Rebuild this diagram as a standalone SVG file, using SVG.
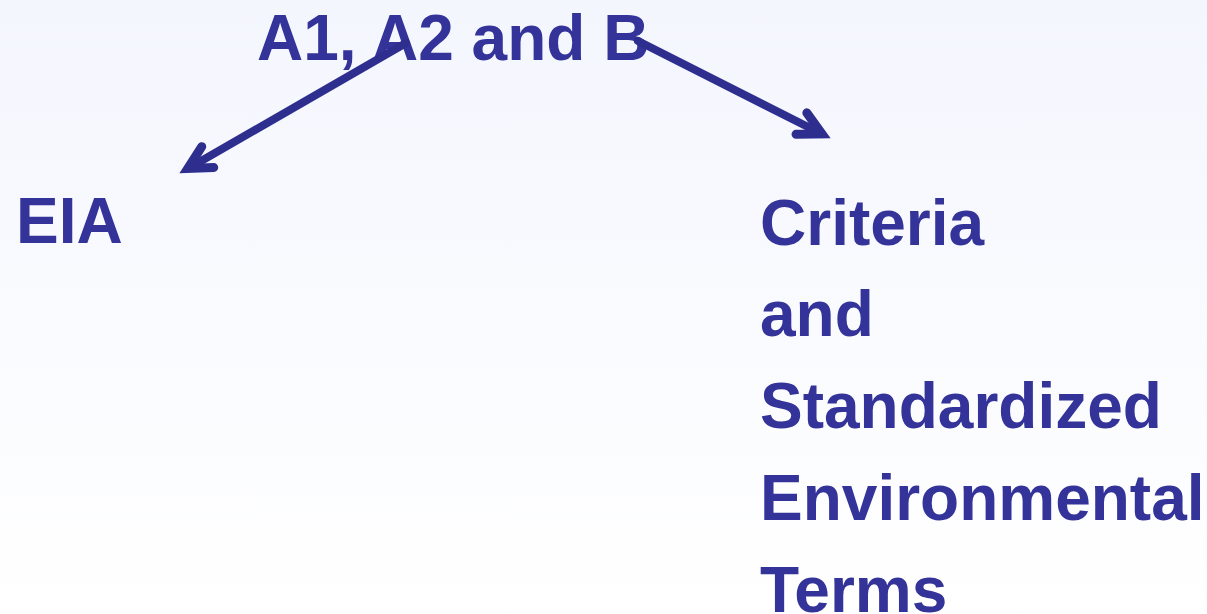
<svg xmlns="http://www.w3.org/2000/svg" width="1207" height="614" viewBox="0 0 1207 614">
  <defs>
    <linearGradient id="bg" x1="0" y1="0" x2="0" y2="1">
      <stop offset="0" stop-color="#f4f6fe"/>
      <stop offset="1" stop-color="#ffffff"/>
    </linearGradient>
    <marker id="arrow" markerUnits="userSpaceOnUse" viewBox="-45 -25 55 50" markerWidth="55" markerHeight="50" refX="0" refY="0" orient="auto" overflow="visible">
      <path d="M-32,-12 L-9,0 L-32,12" fill="none" stroke="#2e2e8f" stroke-width="9" stroke-linejoin="miter" stroke-linecap="round"/>
    </marker>
    <style>
      .label { font-family: "Liberation Sans", Arial, sans-serif; font-weight: bold; font-size: 64px; fill: #333399; }
      .link { fill: none; stroke: #2e2e8f; stroke-width: 8; stroke-linecap: round; }
    </style>
  </defs>

  <rect width="1207" height="614" fill="url(#bg)"/>

  <g id="node-source">
    <text class="label" x="257" y="60">A1, A2 and B</text>
  </g>

  <g id="node-eia">
    <text class="label" x="16" y="243">EIA</text>
  </g>

  <g id="node-criteria">
    <text class="label" x="760" y="245">Criteria</text>
    <text class="label" x="760" y="336">and</text>
    <text class="label" x="760" y="428">Standardized</text>
    <text class="label" x="760" y="520">Environmental</text>
    <text class="label" x="760" y="612">Terms</text>
  </g>

  <!-- arrows: the line stops short of the tip; the marker sits at the visual tip -->
  <g id="connectors">
    <line class="link" x1="406" y1="43" x2="189" y2="168"/>
    <line x1="406" y1="43" x2="180" y2="173" stroke="none" marker-end="url(#arrow)"/>
    <line class="link" x1="638" y1="41" x2="822" y2="134"/>
    <line x1="638" y1="41" x2="830" y2="138" stroke="none" marker-end="url(#arrow)"/>
  </g>
</svg>
